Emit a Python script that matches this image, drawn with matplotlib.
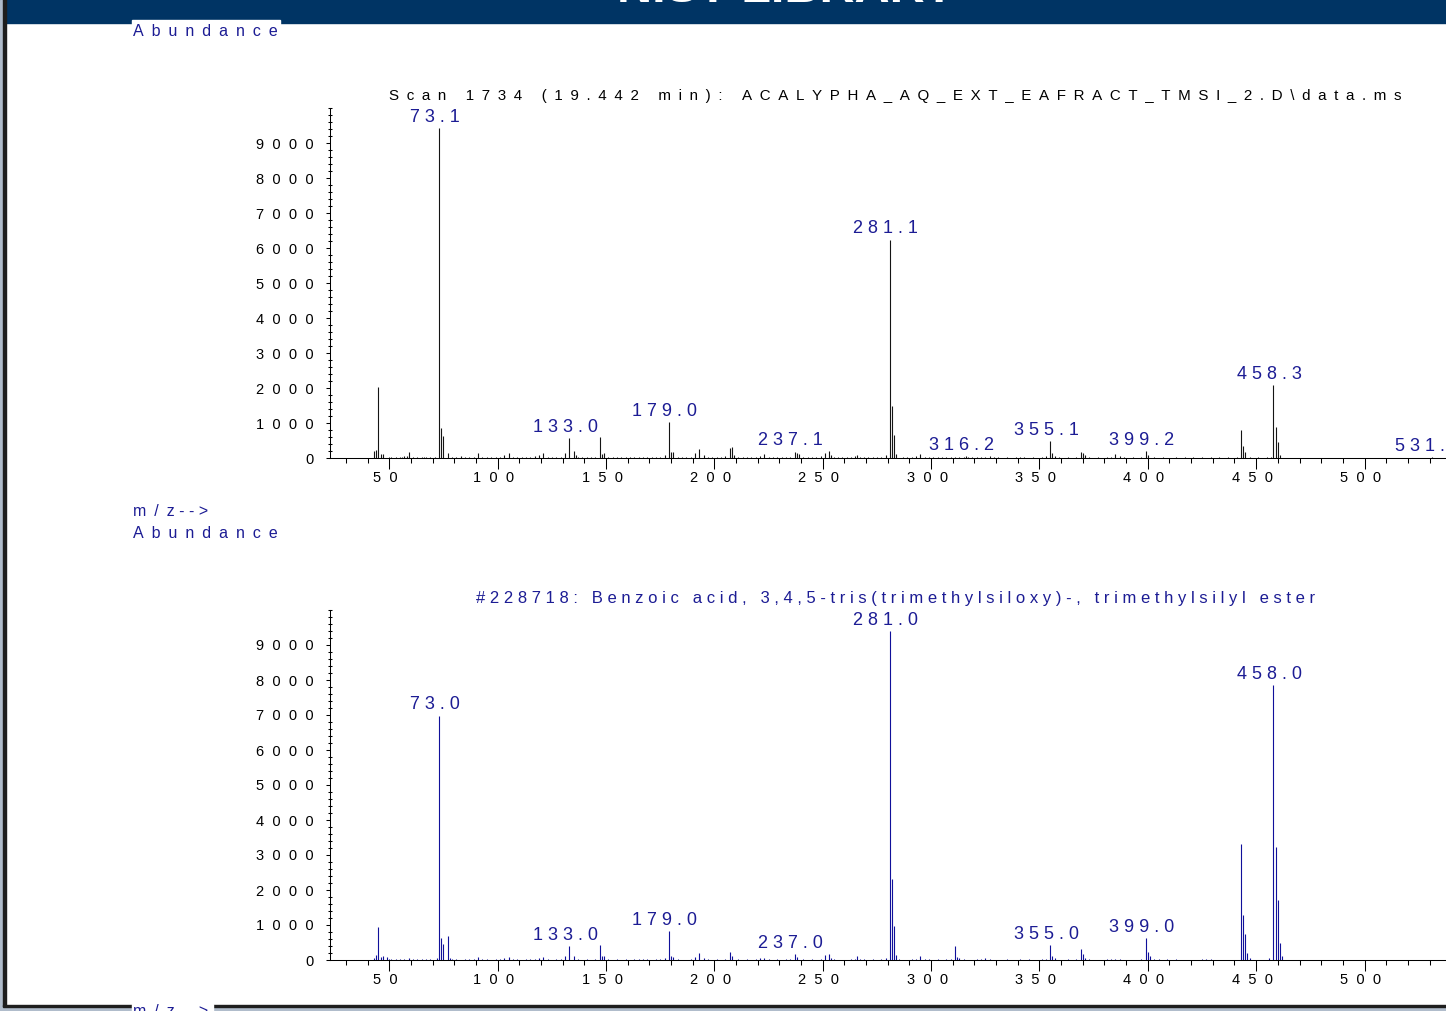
import matplotlib
matplotlib.use("Agg")
import matplotlib.pyplot as plt
from matplotlib.patches import Rectangle
from matplotlib.ticker import MultipleLocator, FixedLocator, FuncFormatter
from matplotlib.transforms import ScaledTranslation

plt.rcParams['font.family'] = ['Liberation Sans', 'DejaVu Sans']

# sample spectrum: scan 1734
scan_mz = [43, 44, 45, 46, 47, 57, 58, 59, 71, 73, 74, 75, 77, 83, 91, 103, 105,
           117, 119, 121, 131, 133, 135, 136, 147, 148, 149, 177, 179, 180, 181,
           191, 193, 195, 207, 208, 209, 223, 237, 238, 239, 251, 253, 254, 266,
           279, 281, 282, 283, 284, 295, 316, 355, 356, 357, 369, 370, 371, 385,
           399, 400, 443, 444, 445, 458, 459, 460, 461, 531]
scan_ab = [220, 240, 2040, 130, 110, 70, 60, 190, 50, 9420, 860, 650, 140, 57, 150, 95, 150,
           67, 100, 150, 150, 580, 210, 80, 610, 125, 150, 95, 1040, 180, 170,
           150, 260, 85, 300, 330, 95, 115, 190, 160, 110, 140, 210, 100, 85,
           95, 6240, 1500, 670, 115, 115, 60, 480, 140, 75, 180, 150, 90, 115,
           210, 95, 810, 350, 190, 2095, 895, 470, 95, 25]
scan_noise_mz = [50, 51, 53, 55, 56, 61, 63, 65, 66, 67,
                 69, 79, 81, 85, 87, 89, 93, 95, 97, 99,
                 101, 107, 109, 111, 113, 115, 123, 125, 127, 129,
                 137, 139, 141, 143, 145, 151, 153, 155, 157, 159,
                 161, 163, 165, 167, 169, 171, 173, 175, 183, 185,
                 187, 189, 197, 199, 201, 203, 205, 211, 213, 215,
                 217, 219, 221, 225, 227, 229, 231, 233, 235, 241,
                 243, 245, 247, 249, 255, 257, 259, 261, 263, 265,
                 267, 269, 271, 273, 275, 277, 287, 289, 291, 293,
                 297, 299, 301, 303, 305, 307, 309, 311, 313, 315,
                 317, 319, 321, 323, 325, 327, 329, 331, 335, 339,
                 341, 343, 347, 351, 353, 359, 363, 367, 373, 377,
                 381, 383, 387, 389, 393, 397, 403, 407, 413, 417,
                 421, 425, 429, 433, 437, 441, 447, 451, 455, 457]
scan_noise_ab = [30, 25, 30, 40, 35, 40, 30, 35, 25, 30,
                 45, 40, 35, 30, 25, 35, 40, 30, 25, 35,
                 30, 40, 35, 30, 25, 45, 30, 35, 25, 40,
                 30, 35, 25, 30, 40, 35, 30, 25, 35, 30,
                 40, 45, 35, 30, 25, 30, 35, 45, 35, 30,
                 40, 30, 35, 30, 45, 40, 60, 35, 30, 40,
                 35, 45, 70, 40, 35, 30, 45, 30, 50, 35,
                 40, 30, 45, 60, 40, 35, 30, 40, 50, 70,
                 40, 35, 30, 35, 40, 45, 35, 30, 40, 60,
                 45, 40, 35, 30, 40, 35, 30, 50, 45, 40,
                 40, 35, 30, 40, 45, 55, 35, 30, 40, 30,
                 35, 30, 25, 40, 60, 35, 30, 45, 30, 25,
                 30, 40, 60, 35, 30, 40, 35, 30, 25, 30,
                 25, 30, 35, 30, 25, 40, 35, 25, 40, 45]
scan_label_mz = [73, 133, 179, 237, 281, 316, 355, 399, 458, 531]
scan_labels = ['73.1', '133.0', '179.0', '237.1', '281.1', '316.2', '355.1', '399.2', '458.3', '531.1']

# library hit #228718
lib_mz = [43, 44, 45, 46, 47, 49, 59, 72, 73, 74, 75, 77, 78, 79, 91, 103, 105, 119, 121, 131,
          133, 135, 147, 148, 149, 177, 179, 180, 181, 191, 193, 195, 207, 208, 221, 223, 237, 238, 251, 253,
          254, 266, 279, 281, 282, 283, 284, 295, 311, 312, 313, 325, 355, 356, 357, 369, 370, 371, 385, 399,
          400, 401, 427, 443, 444, 445, 446, 447, 456, 458, 459, 460, 461, 462]
lib_ab = [57, 133, 933, 80, 105, 76, 67, 57, 6980, 620, 457, 695, 60, 40, 76, 50, 76, 50, 76, 114,
          400, 114, 430, 114, 114, 57, 820, 114, 76, 95, 190, 57, 230, 124, 57, 57, 162, 86, 143, 171,
          67, 114, 67, 9400, 2314, 971, 152, 114, 400, 95, 67, 67, 430, 114, 67, 324, 171, 67, 30, 620,
          219, 124, 30, 3314, 1286, 743, 190, 60, 67, 7860, 3229, 1714, 495, 124]
lib_noise_mz = [50, 51, 53, 55, 57, 61, 63, 65, 67, 69,
                81, 85, 87, 89, 93, 95, 99, 101, 107, 109,
                113, 115, 117, 123, 127, 129, 137, 141, 145, 151,
                155, 159, 163, 165, 167, 169, 173, 175, 183, 189,
                197, 201, 205, 211, 215, 219, 225, 229, 233, 235,
                241, 245, 249, 255, 263, 265, 267, 269, 273, 277,
                285, 291, 293, 297, 299, 303, 307, 309, 315, 321,
                323, 327, 335, 341, 345, 351, 353, 363, 367, 373,
                381, 383, 387, 397, 403, 405, 409, 413, 425, 429]
lib_noise_ab = [20, 25, 15, 30, 20, 25, 20, 30, 25, 20,
                15, 25, 20, 30, 20, 15, 25, 20, 30, 25,
                20, 25, 30, 20, 15, 25, 20, 15, 25, 30,
                20, 25, 15, 20, 25, 20, 15, 25, 20, 30,
                20, 25, 30, 20, 15, 25, 30, 20, 25, 40,
                20, 25, 30, 20, 25, 40, 30, 20, 25, 30,
                20, 25, 30, 40, 20, 25, 15, 20, 25, 20,
                30, 25, 20, 25, 15, 20, 30, 25, 20, 15,
                20, 25, 20, 15, 25, 20, 15, 20, 25, 20]
lib_label_mz = [73, 133, 179, 237, 281, 355, 399, 458]
lib_labels = ['73.0', '133.0', '179.0', '237.0', '281.0', '355.0', '399.0', '458.0']

scan_title = 'Scan 1734 (19.442 min): ACALYPHA_AQ_EXT_EAFRACT_TMSI_2.D\\data.ms'
lib_title = '#228718: Benzoic acid, 3,4,5-tris(trimethylsiloxy)-, trimethylsilyl ester'

W, H = 1446, 1011
BLUE = '#1c1c94'
NAVY = '#003464'
EN = '\u2002'


def sp(s, gap=' '):
    # letter spaced text like the ChemStation printout
    return gap.join(s)


def fx(px):
    return px / W


def fy(py):
    return 1 - py / H


fig = plt.figure(figsize=(W / 100, H / 100), dpi=100)

# window frame and header
fig.add_artist(Rectangle((0, fy(22.5)), 1, 22.5 / H, transform=fig.transFigure,
                         color=NAVY, zorder=1))
fig.add_artist(Rectangle((0, 0), fx(3), 1, transform=fig.transFigure, color='#b0bccb', zorder=1.5))
fig.add_artist(Rectangle((fx(3), fy(1007)), fx(2.5), 1, transform=fig.transFigure,
                         color='#1e1e1e', zorder=1.5))
fig.add_artist(Rectangle((0, 0), 1, 4 / H, transform=fig.transFigure, color='#b0bccb', zorder=1.5))
fig.add_artist(Rectangle((fx(3), fy(1007)), 1, 2.5 / H, transform=fig.transFigure,
                         color='#1e1e1e', zorder=1.5))
fig.text(fx(786), fy(2.5), 'NIST LIBRARY', color='white', fontsize=35, fontweight='bold',
         ha='center', va='baseline', zorder=2)

# white boxes behind the Abundance / m/z labels
fig.add_artist(Rectangle((fx(132), fy(40)), fx(148), 20 / H, transform=fig.transFigure,
                         color='white', zorder=2))
fig.add_artist(Rectangle((fx(132), 0), fx(81), 7 / H, transform=fig.transFigure,
                         color='white', zorder=2))

mz_text = sp('m/z', EN) + ' ' + sp('-->', ' ')
fig.text(fx(133), fy(31), sp('Abundance', EN), color=BLUE, fontsize=11.5, ha='left', va='center', zorder=3)
fig.text(fx(133), fy(511), mz_text, color=BLUE, fontsize=11.5, ha='left', va='center', zorder=3)
fig.text(fx(133), fy(533), sp('Abundance', EN), color=BLUE, fontsize=11.5, ha='left', va='center', zorder=3)
fig.text(fx(133), fy(1004), mz_text, color=BLUE, fontsize=11.5, ha='left', va='top', zorder=3)

fig.text(fx(895), fy(96), sp(scan_title, EN), color='black', fontsize=10.9, ha='center', va='center')
fig.text(fx(896), fy(598), sp(lib_title), color=BLUE, fontsize=12, ha='center', va='center')


def spectrum(top_px, bottom_px, mz, ab, noise_mz, noise_ab, lab_mz, labs, color):
    ax = fig.add_axes([fx(330), fy(bottom_px), 1 - fx(330), (bottom_px - top_px) / H])
    ax.set_facecolor('none')
    ax.vlines(noise_mz, 0, noise_ab, colors=color, linewidth=0.75)
    ax.vlines(mz, 0, ab, colors=color, linewidth=0.8)
    ax.set_xlim(22.63, 537.6)
    ax.set_ylim(0, 10000)
    for side in ['top', 'right']:
        ax.spines[side].set_visible(False)
    for side in ['left', 'bottom']:
        ax.spines[side].set_linewidth(0.75)
    ax.xaxis.set_major_locator(MultipleLocator(50))
    ax.xaxis.set_minor_locator(MultipleLocator(10))
    ax.yaxis.set_major_locator(FixedLocator(range(0, 10000, 1000)))
    ax.yaxis.set_minor_locator(MultipleLocator(200))
    ax.xaxis.set_major_formatter(FuncFormatter(lambda v, p: sp(str(int(v)), '  ')))
    ax.yaxis.set_major_formatter(FuncFormatter(lambda v, p: sp(str(int(v)), '  ')))
    ax.tick_params(axis='x', which='major', direction='out', length=8, width=0.75, pad=1, labelsize=10.5)
    ax.tick_params(axis='x', which='minor', direction='out', length=3.6, width=0.75)
    ax.tick_params(axis='y', which='major', direction='out', length=3, width=0.75, pad=8.5, labelsize=10.5)
    ax.tick_params(axis='y', which='minor', direction='inout', length=2.5, width=0.75)
    off = ScaledTranslation(-4 / 100, 0, fig.dpi_scale_trans)
    for lab in ax.get_xticklabels():
        lab.set_transform(lab.get_transform() + off)
    for m, t in zip(lab_mz, labs):
        y = ab[mz.index(m)]
        ax.annotate(sp(t), (m, y), xytext=(-3, 4.5), textcoords='offset points',
                    ha='center', va='baseline', fontsize=13, color=BLUE, annotation_clip=False)
    return ax


spectrum(108, 458.3, scan_mz, scan_ab, scan_noise_mz, scan_noise_ab,
         scan_label_mz, scan_labels, '#141414')
spectrum(610, 960, lib_mz, lib_ab, lib_noise_mz, lib_noise_ab,
         lib_label_mz, lib_labels, '#10109a')

fig.savefig('out.png', dpi=100)
